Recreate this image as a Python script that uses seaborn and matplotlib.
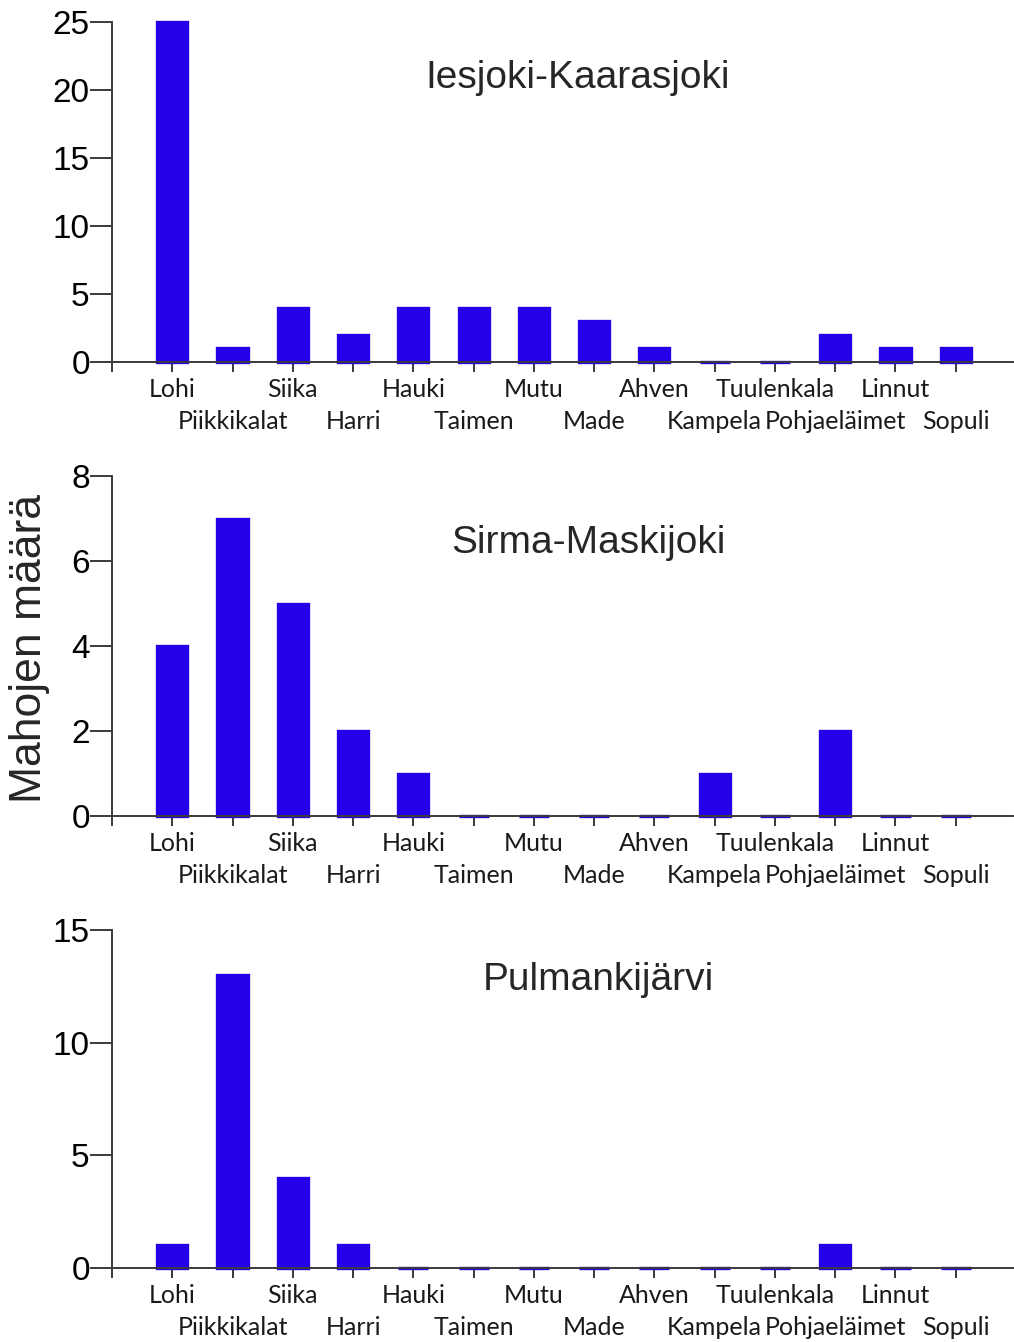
import matplotlib
matplotlib.use("Agg")
import matplotlib.pyplot as plt
import seaborn as sns
import pandas as pd

categories = ["Lohi", "Piikkikalat", "Siika", "Harri", "Hauki", "Taimen", "Mutu",
              "Made", "Ahven", "Kampela", "Tuulenkala", "Pohjaeläimet", "Linnut", "Sopuli"]

iesjoki = [25, 1, 4, 2, 4, 4, 4, 3, 1, 0, 0, 2, 1, 1]
sirma = [4, 7, 5, 2, 1, 0, 0, 0, 0, 1, 0, 2, 0, 0]
pulmanki = [1, 13, 4, 1, 0, 0, 0, 0, 0, 0, 0, 1, 0, 0]

titles = ["Iesjoki-Kaarasjoki", "Sirma-Maskijoki", "Pulmankijärvi"]
series = [iesjoki, sirma, pulmanki]
y_max = [25, 8, 15]
y_ticks = [[0, 5, 10, 15, 20, 25], [0, 2, 4, 6, 8], [0, 5, 10, 15]]

sns.set_theme(style="white")
plt.rcParams["font.family"] = ["Liberation Sans", "DejaVu Sans"]

BAR = "#2400E8"
AXC = "#3a3a3a"

fig = plt.figure(figsize=(10.14, 13.42), dpi=100)
W, H = 1014, 1342
# (top pixel, zero-line pixel) for each panel
panel_px = [(22, 362), (476, 816), (930, 1268)]
title_pos = [(578, 78), (588, 543), (598, 980)]

for k, (vals, title) in enumerate(zip(series, titles)):
    top, bot = panel_px[k]
    ax = fig.add_axes([112 / W, (H - bot) / H, (1013 - 112) / W, (bot - top) / H])
    df = pd.DataFrame({"laji": categories, "n": vals})
    sns.barplot(data=df, x="laji", y="n", color=BAR, saturation=1, width=0.5,
                edgecolor=BAR, linewidth=2.4, ax=ax)
    for p in ax.patches:
        p.set_clip_on(False)
    ax.set_xlim(-1, 13.95)
    ax.set_ylim(0, y_max[k])
    ax.set_yticks(y_ticks[k])
    ax.set_yticklabels([str(t) for t in y_ticks[k]], fontsize=24,
                       family=["Liberation Sans", "DejaVu Sans"])
    ax.set_xticks(range(-1, len(categories)))
    ax.set_xticklabels([""] + categories, fontsize=18, family=["Lato", "DejaVu Sans"],
                       color="#1a1a1a")
    ax.set_xlabel("")
    ax.set_ylabel("")
    for s in ["top", "right"]:
        ax.spines[s].set_visible(False)
    for s in ["left", "bottom"]:
        ax.spines[s].set_color(AXC)
        ax.spines[s].set_linewidth(1.4)
        ax.spines[s].set_zorder(3)
    ax.tick_params(axis="both", direction="out", width=1.4, color=AXC,
                   bottom=True, left=True)
    ax.tick_params(axis="x", length=7.5)
    ax.tick_params(axis="y", length=16, pad=0, labelcolor="black")
    # staggered category names: every other label on a second row
    for i, tick in enumerate(ax.xaxis.get_major_ticks()):
        tick.set_pad(4 if i % 2 == 1 else 27)
    ax.grid(False)
    tx, ty = title_pos[k]
    fig.text(tx / W, (H - ty) / H, title, fontsize=28, ha="center", va="center",
             family=["Liberation Sans", "DejaVu Sans"])

fig.text(30 / W, (H - 648) / H, "Mahojen määrä", rotation=90, fontsize=32,
         ha="center", va="center", family=["Liberation Sans", "DejaVu Sans"])

fig.savefig("out.png", dpi=100, facecolor="white")
